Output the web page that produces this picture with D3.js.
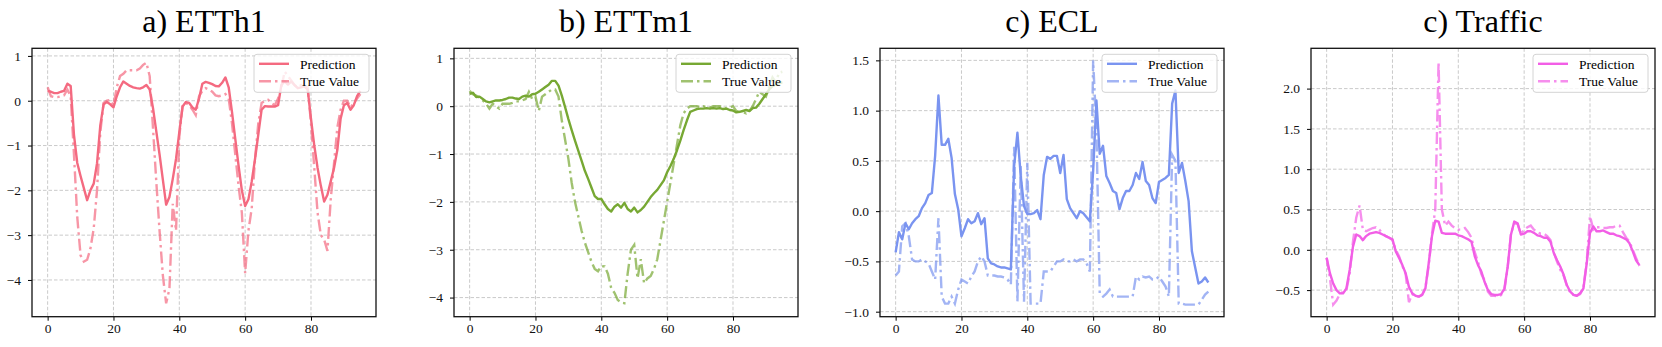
<!DOCTYPE html>
<html>
<head>
<meta charset="utf-8">
<script src="https://cdn.jsdelivr.net/npm/d3@7"></script>
<style>
  body { margin: 0; background: #fff; }
  svg text { font-family: 'Liberation Serif', 'Times New Roman', serif; fill: #000; }
</style>
</head>
<body>
<svg id="root" width="1662" height="347"></svg>
<script>
const width = 1662
const height = 347

// data, index 0..95
const etth1Pred = [0.22, 0.2, 0.17, 0.17, 0.2, 0.22, 0.38, 0.33, -0.76, -1.39, -1.68, -1.95, -2.22, -2.0, -1.85, -1.4,
  -0.55, -0.08, -0.03, -0.08, -0.15, 0.1, 0.3, 0.43, 0.38, 0.33, 0.3, 0.28, 0.27, 0.3, 0.35, 0.25,
  -0.16, -0.68, -1.2, -1.76, -2.32, -2.15, -1.75, -1.3, -0.7, -0.13, -0.03, -0.05, -0.15, -0.2, 0.05, 0.38,
  0.42, 0.4, 0.37, 0.33, 0.32, 0.4, 0.52, 0.3, -0.25, -0.85, -1.45, -2.0, -2.35, -2.2, -1.8, -1.3,
  -0.75, -0.2, -0.12, -0.13, -0.13, -0.13, -0.1, 0.35, 0.43, 0.36, 0.43, 0.35, 0.28, 0.3, 0.32, 0.25,
  -0.4, -1.0, -1.5, -1.9, -2.25, -2.1, -1.8, -1.5, -1.1, -0.4, -0.1, -0.05, -0.2, -0.1, 0.1, 0.22]
const etth1True = [0.3, 0.1, 0.08, 0.08, 0.1, 0.12, 0.25, 0.1, -1.2, -2.6, -3.45, -3.59, -3.55, -3.3, -2.85, -2.0,
  -0.7, -0.05, 0.0, 0.02, -0.1, 0.3, 0.55, 0.6, 0.68, 0.68, 0.68, 0.68, 0.72, 0.8, 0.85, 0.55,
  -0.6, -1.8, -2.9, -3.9, -4.52, -4.2, -2.3, -2.9, -0.8, -0.1, -0.05, -0.1, -0.2, -0.32, 0.1, 0.22,
  0.28, 0.25, 0.2, 0.12, 0.1, 0.12, 0.15, 0.05, -0.5, -1.2, -1.9, -2.5, -3.85, -2.9, -2.4, -1.3,
  -0.5, -0.05, 0.0, 0.02, -0.05, -0.1, 0.05, 0.3, 0.65, 0.55, 0.45, 0.35, 0.3, 0.35, 0.3, 0.3,
  -0.5, -1.5, -2.5, -3.0, -3.1, -3.35, -2.2, -1.4, -0.6, -0.2, 0.0, 0.0, -0.15, -0.05, 0.05, 0.15]

const ettm1Pred = [0.26, 0.28, 0.19, 0.2, 0.15, 0.1, 0.08, 0.1, 0.12, 0.12, 0.13, 0.15, 0.18, 0.18, 0.16, 0.15,
  0.2, 0.22, 0.2, 0.25, 0.26, 0.3, 0.35, 0.4, 0.45, 0.53, 0.53, 0.43, 0.22, -0.02, -0.27, -0.5,
  -0.72, -0.93, -1.14, -1.35, -1.52, -1.7, -1.88, -1.94, -1.94, -2.05, -2.15, -2.2, -2.1, -2.05, -2.12, -2.02,
  -2.15, -2.2, -2.12, -2.22, -2.17, -2.1, -2.0, -1.9, -1.82, -1.75, -1.65, -1.55, -1.38, -1.25, -1.1, -0.92,
  -0.72, -0.5, -0.3, -0.12, -0.09, -0.06, -0.05, -0.05, -0.04, -0.05, -0.04, -0.05, -0.04, -0.06, -0.05, -0.08,
  -0.09, -0.13, -0.12, -0.1, -0.08, -0.1, -0.04, -0.03, 0.05, 0.15, 0.25, 0.35, 0.42, 0.45, 0.48, 0.5]
const ettm1True = [0.32, 0.25, 0.22, 0.18, 0.12, 0.05, -0.05, 0.05, 0.0, -0.05, 0.05, 0.05, 0.05, 0.07, 0.1, 0.1,
  0.12, 0.15, 0.3, 0.15, 0.2, -0.1, 0.2, 0.25, 0.3, 0.35, 0.35, 0.2, -0.3, -0.7, -1.1, -1.6,
  -2.0, -2.3, -2.6, -2.85, -3.05, -3.25, -3.4, -3.45, -3.34, -3.35, -3.5, -3.8, -3.9, -4.05, -4.1, -4.12,
  -3.5, -3.0, -2.9, -3.6, -3.2, -3.7, -3.6, -3.55, -3.4, -3.2, -2.8, -2.4, -2.0, -1.6, -1.2, -0.8,
  -0.4, -0.15, -0.05, 0.0, 0.0, 0.0, -0.02, 0.0, -0.02, -0.03, 0.0, 0.0, 0.0, -0.03, -0.05, -0.03,
  0.0, -0.1, -0.12, -0.13, -0.15, -0.1, 0.0, 0.15, 0.3, 0.25, 0.2, 0.4, 0.6, 0.5, 0.7, 0.72]

const eclPred = [-0.41, -0.21, -0.28, -0.12, -0.18, -0.12, -0.08, -0.05, 0.03, 0.08, 0.16, 0.18, 0.55, 1.15, 0.66, 0.66,
  0.72, 0.53, 0.17, 0.02, -0.25, -0.17, -0.08, -0.12, -0.1, -0.02, -0.13, -0.07, -0.47, -0.52, -0.53, -0.55,
  -0.56, -0.56, -0.57, -0.58, 0.45, 0.78, 0.35, 0.05, -0.03, -0.03, -0.02, 0.01, -0.08, 0.36, 0.54, 0.52,
  0.55, 0.55, 0.38, 0.56, 0.12, 0.03, -0.02, -0.07, 0.0, -0.02, -0.06, -0.1, 0.4, 1.1, 0.57, 0.65,
  0.35, 0.28, 0.2, 0.18, 0.02, 0.13, 0.2, 0.2, 0.26, 0.38, 0.32, 0.49, 0.3, 0.26, 0.13, 0.08,
  0.29, 0.31, 0.33, 0.36, 1.07, 1.2, 0.38, 0.48, 0.3, 0.1, -0.4, -0.56, -0.72, -0.7, -0.66, -0.71]
const eclTrue = [-0.64, -0.6, -0.15, -0.12, -0.25, -0.48, -0.5, -0.5, -0.48, -0.5, -0.52, -0.6, -0.68, -0.07, -0.85, -0.92,
  -0.92, -0.85, -0.92, -0.78, -0.68, -0.7, -0.72, -0.65, -0.6, -0.5, -0.45, -0.5, -0.64, -0.64, -0.64, -0.65,
  -0.65, -0.66, -0.68, -0.73, 0.64, -0.9, 0.45, -0.9, 0.48, -0.92, -0.92, -0.92, -0.92, -0.6, -0.6, -0.6,
  -0.55, -0.5, -0.5, -0.48, -0.5, -0.5, -0.48, -0.5, -0.48, -0.48, -0.52, -0.6, 1.5, 0.8, -0.82, -0.85,
  -0.82, -0.78, -0.85, -0.85, -0.85, -0.85, -0.85, -0.85, -0.85, -0.65, -0.68, -0.65, -0.66, -0.65, -0.68, -0.68,
  -0.65, -0.7, -0.75, -0.85, 0.56, 0.5, -0.92, -0.92, -0.93, -0.93, -0.93, -0.93, -0.93, -0.88, -0.83, -0.8]

const trafficPred = [-0.1, -0.29, -0.42, -0.5, -0.54, -0.54, -0.48, -0.25, 0.04, 0.19, 0.17, 0.12, 0.17, 0.2, 0.21, 0.22,
  0.21, 0.19, 0.17, 0.15, 0.13, -0.02, -0.1, -0.19, -0.29, -0.46, -0.54, -0.57, -0.58, -0.56, -0.48, -0.17,
  0.17, 0.36, 0.35, 0.21, 0.2, 0.2, 0.2, 0.2, 0.18, 0.17, 0.15, 0.13, 0.1, -0.08, -0.19, -0.27,
  -0.4, -0.5, -0.55, -0.56, -0.56, -0.55, -0.48, -0.21, 0.19, 0.35, 0.33, 0.19, 0.2, 0.23, 0.23, 0.21,
  0.18, 0.17, 0.15, 0.15, 0.1, -0.04, -0.13, -0.21, -0.31, -0.44, -0.52, -0.56, -0.57, -0.54, -0.48, -0.17,
  0.21, 0.29, 0.23, 0.23, 0.24, 0.22, 0.2, 0.2, 0.18, 0.17, 0.15, 0.13, 0.08, -0.02, -0.13, -0.19]
const trafficTrue = [-0.1, -0.35, -0.68, -0.63, -0.55, -0.52, -0.5, -0.3, 0.1, 0.4, 0.55, 0.25, 0.23, 0.25, 0.27, 0.28,
  0.25, 0.2, 0.17, 0.15, 0.12, 0.0, -0.08, -0.2, -0.3, -0.65, -0.55, -0.58, -0.58, -0.56, -0.47, -0.2,
  0.2, 0.5, 2.33, 0.5, 0.3, 0.35, 0.3, 0.27, 0.25, 0.25, 0.27, 0.22, 0.15, -0.03, -0.15, -0.3,
  -0.38, -0.52, -0.57, -0.57, -0.58, -0.56, -0.5, -0.22, 0.2, 0.33, 0.32, 0.2, 0.25, 0.28, 0.3, 0.25,
  0.22, 0.2, 0.2, 0.17, 0.12, -0.03, -0.15, -0.25, -0.32, -0.45, -0.53, -0.56, -0.57, -0.55, -0.47, -0.15,
  0.42, 0.25, 0.28, 0.28, 0.27, 0.27, 0.28, 0.28, 0.3, 0.3, 0.22, 0.15, 0.1, 0.0, -0.1, -0.2]

const titles = ['a) ETTh1', 'b) ETTm1', 'c) ECL', 'c) Traffic']
const colors = ['#f46a80', '#77a833', '#7a94f0', '#f25ee6']
const xTicks = [0, 20, 40, 60, 80]
const yTicks = [
  [-4, -3, -2, -1, 0, 1],
  [-4, -3, -2, -1, 0, 1],
  [-1.0, -0.5, 0.0, 0.5, 1.0, 1.5],
  [-0.5, 0.0, 0.5, 1.0, 1.5, 2.0]
]
const yDomains = [[-4.82, 1.17], [-4.4, 1.21], [-1.05, 1.62], [-0.83, 2.5]]
const legendLabels = ['Prediction', 'True Value']

const series = [[etth1Pred, etth1True], [ettm1Pred, ettm1True], [eclPred, eclTrue], [trafficPred, trafficTrue]]
const lefts = [32, 454, 880, 1311]
const plotTop = 48.3
const plotW = 344
const plotH = 268.4
const serif = "'Liberation Serif', 'Times New Roman', serif"

const svg = d3.select('#root')
const fmt = [d3.format('d'), d3.format('d'), d3.format('.1f'), d3.format('.1f')]
const minus = s => s.replace('-', '\u2212')

series.forEach(([pred, truth], k) => {
  const g = svg.append('g').attr('transform', `translate(${lefts[k]},${plotTop})`)
  const color = colors[k]

  const x = d3.scaleLinear().domain([-4.75, 99.75]).range([0, plotW])
  const y = d3.scaleLinear().domain(yDomains[k]).range([plotH, 0])

  // title
  svg.append('text')
    .attr('x', lefts[k] + plotW / 2)
    .attr('y', 32)
    .attr('text-anchor', 'middle')
    .attr('font-family', serif)
    .style('font-size', '32px')
    .text(titles[k])

  // grid
  g.selectAll('line.gx').data(xTicks).enter().append('line')
    .attr('x1', d => x(d)).attr('x2', d => x(d))
    .attr('y1', 0).attr('y2', plotH)
    .attr('stroke', '#bcbcbc').attr('stroke-width', 0.8).attr('stroke-dasharray', '3.5,2')
  g.selectAll('line.gy').data(yTicks[k]).enter().append('line')
    .attr('x1', 0).attr('x2', plotW)
    .attr('y1', d => y(d)).attr('y2', d => y(d))
    .attr('stroke', '#bcbcbc').attr('stroke-width', 0.8).attr('stroke-dasharray', '3.5,2')

  // clip
  const clipId = 'clip' + k
  g.append('clipPath').attr('id', clipId)
    .append('rect').attr('width', plotW).attr('height', plotH)

  const line = d3.line().x((d, i) => x(i)).y(d => y(d))

  g.append('path')
    .datum(pred)
    .attr('clip-path', `url(#${clipId})`)
    .attr('fill', 'none')
    .attr('stroke', color)
    .attr('stroke-width', 2.4)
    .attr('stroke-linejoin', 'round')
    .attr('d', line)

  g.append('path')
    .datum(truth)
    .attr('clip-path', `url(#${clipId})`)
    .attr('fill', 'none')
    .attr('stroke', color)
    .attr('stroke-opacity', 0.7)
    .attr('stroke-width', 2.4)
    .attr('stroke-dasharray', '12,4,2.5,4')
    .attr('d', line)

  // axes
  const xAxis = d3.axisBottom(x).tickValues(xTicks).tickSize(4).tickPadding(3).tickSizeOuter(0)
  const yAxis = d3.axisLeft(y).tickValues(yTicks[k]).tickSize(4).tickPadding(7).tickSizeOuter(0)
    .tickFormat(d => minus(fmt[k](d)))

  const gx = g.append('g').attr('transform', `translate(0,${plotH})`).call(xAxis)
  const gy = g.append('g').call(yAxis)
  ;[gx, gy].forEach(a => {
    a.attr('font-family', serif).attr('font-size', 13.5)
    a.select('.domain').remove()
    a.selectAll('text').attr('font-family', serif).style('font-size', '13.5px').style('fill', '#111')
    a.selectAll('line').attr('stroke', '#000').attr('stroke-width', 1)
  })

  // frame
  g.append('rect')
    .attr('width', plotW).attr('height', plotH)
    .attr('fill', 'none').attr('stroke', '#111').attr('stroke-width', 1.3)

  // legend
  const lw = 115
  const lh = 38
  const lg = g.append('g').attr('transform', `translate(${plotW - 7 - lw},6)`)
  lg.append('rect')
    .attr('width', lw).attr('height', lh).attr('rx', 3)
    .attr('fill', '#fff').attr('fill-opacity', 0.8)
    .attr('stroke', '#d4d4d4').attr('stroke-width', 1)
  legendLabels.forEach((label, j) => {
    const ly = 9.5 + j * 17.5
    lg.append('line')
      .attr('x1', 5).attr('x2', 35).attr('y1', ly).attr('y2', ly)
      .attr('stroke', color)
      .attr('stroke-opacity', j === 0 ? 1 : 0.7)
      .attr('stroke-width', 2.4)
      .attr('stroke-dasharray', j === 0 ? null : '12,4,2.5,4')
    lg.append('text')
      .attr('x', 46).attr('y', ly).attr('dy', '0.35em')
      .attr('font-family', serif)
      .style('font-size', '13.5px')
      .text(label)
  })
})
</script>
</body>
</html>
